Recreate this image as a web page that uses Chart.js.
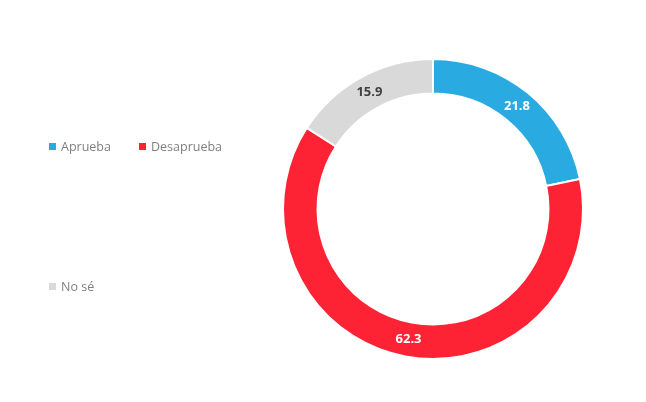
<!DOCTYPE html>
<html><head><meta charset="utf-8">
<script src="https://cdn.jsdelivr.net/npm/chart.js@4"></script>
<style>
html,body{margin:0;padding:0;background:#fff;}
#wrap{position:relative;width:646px;height:402px;}
#c{position:absolute;left:0;top:0;}
.lg{position:absolute;font-family:"Open Sans",sans-serif;font-size:12.5px;color:#7f7f7f;line-height:16px;white-space:nowrap;}
.lg i{display:inline-block;width:7px;height:7px;margin-right:5px;vertical-align:1px;}
</style></head><body>
<div id="wrap"><canvas id="c" width="646" height="402"></canvas><div id="legend"></div></div>
<script>
const categories = ["Aprueba", "Desaprueba", "No sé"];
const values = [21.8, 62.3, 15.9];
const colors = ["#29abe2", "#fe2334", "#d9d9d9"];
const labelColors = ["#ffffff", "#ffffff", "#404040"];
const legendPos = [[49,139],[139,139],[49,279]];

const lg = document.getElementById('legend');
categories.forEach((c,i)=>{
  const d=document.createElement('div');d.className='lg';
  d.style.left=legendPos[i][0]+'px';d.style.top=legendPos[i][1]+'px';
  d.innerHTML='<i style="background:'+colors[i]+'"></i>'+c;
  lg.appendChild(d);
});

const labelPlugin = {
  id:'labels',
  afterDatasetsDraw(chart){
    const ctx=chart.ctx; const meta=chart.getDatasetMeta(0);
    ctx.save();
    ctx.font='bold 13px "Open Sans", sans-serif';
    ctx.textAlign='center';ctx.textBaseline='middle';
    meta.data.forEach((arc,i)=>{
      const p=arc.tooltipPosition();
      ctx.fillStyle=labelColors[i];
      ctx.fillText(values[i].toFixed(1),p.x,p.y);
    });
    ctx.restore();
  }
};

new Chart(document.getElementById('c'),{
  type:'doughnut',
  data:{labels:categories,datasets:[{data:values,backgroundColor:colors,borderColor:'#ffffff',borderWidth:2}]},
  options:{
    responsive:false,animation:false,
    cutout:'77%',
    layout:{padding:{left:282,right:62,top:58,bottom:42}},
    plugins:{legend:{display:false},tooltip:{enabled:false}}
  },
  plugins:[labelPlugin]
});
</script>
</body></html>
